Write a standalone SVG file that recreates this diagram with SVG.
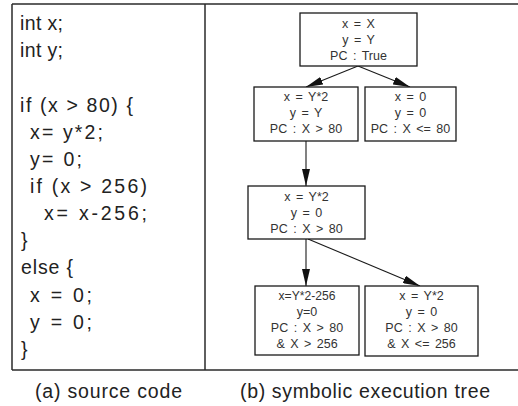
<svg xmlns="http://www.w3.org/2000/svg" width="518" height="406" viewBox="0 0 518 406">
<style>
.frame{stroke:#2a2a2a;stroke-width:1.5;fill:none}
.code{font-family:"Liberation Sans",Arial,sans-serif;font-size:19.5px;fill:#222}
.cap{font-family:"Liberation Sans",Arial,sans-serif;font-size:19.5px;fill:#222}
.box{fill:#fff;stroke:#1a1a1a;stroke-width:1.3}
.t{font-family:"Liberation Sans",Arial,sans-serif;font-size:12.5px;fill:#333;text-anchor:middle;word-spacing:2px}
.edge{stroke:#1a1a1a;stroke-width:1.1;fill:none;marker-end:url(#ah)}
</style>
<defs>
<marker id="ah" markerUnits="userSpaceOnUse" markerWidth="17" markerHeight="8" refX="17" refY="4" orient="auto">
<path d="M0,0 L17,4 L0,8 z" fill="#111"/>
</marker>
</defs>
<rect width="518" height="406" fill="#fff"/>
<g id="frame">
<line class="frame" x1="12" y1="4" x2="518" y2="4"/>
<line class="frame" x1="12" y1="370" x2="518" y2="370"/>
<line class="frame" x1="12" y1="4" x2="12" y2="370"/>
<line class="frame" x1="205" y1="4" x2="205" y2="370"/>
</g>
<g id="source-code">
<text class="code" x="20" y="30" textLength="43" lengthAdjust="spacing">int x;</text>
<text class="code" x="20" y="57" textLength="43" lengthAdjust="spacing">int y;</text>
<text class="code" x="20" y="112" textLength="113" lengthAdjust="spacing">if (x &gt; 80) {</text>
<text class="code" x="30" y="139" textLength="73" lengthAdjust="spacing">x= y*2;</text>
<text class="code" x="30" y="166" textLength="52" lengthAdjust="spacing">y= 0;</text>
<text class="code" x="30" y="193" textLength="117" lengthAdjust="spacing">if (x &gt; 256)</text>
<text class="code" x="44" y="220" textLength="103" lengthAdjust="spacing">x= x-256;</text>
<text class="code" x="21" y="247">}</text>
<text class="code" x="21" y="274" textLength="52" lengthAdjust="spacing">else {</text>
<text class="code" x="30" y="302" textLength="62" lengthAdjust="spacing">x = 0;</text>
<text class="code" x="30" y="329" textLength="62" lengthAdjust="spacing">y = 0;</text>
<text class="code" x="21" y="356">}</text>
</g>
<g id="connectors">
<line class="edge" x1="358" y1="66" x2="306" y2="87"/>
<line class="edge" x1="358" y1="66" x2="410" y2="87"/>
<line class="edge" x1="306" y1="141" x2="306" y2="186"/>
<line class="edge" x1="306" y1="239" x2="306" y2="286"/>
<line class="edge" x1="308" y1="239" x2="420" y2="286"/>
</g>
<g id="node-root">
<rect class="box" x="300" y="13" width="117" height="53"/>
<text class="t" x="358.5" y="28">x = X</text>
<text class="t" x="358.5" y="44">y = Y</text>
<text class="t" x="358.5" y="60">PC : True</text>
</g>
<g id="node-then">
<rect class="box" x="254" y="87" width="104" height="54"/>
<text class="t" x="306" y="101">x = Y*2</text>
<text class="t" x="306" y="117">y = Y</text>
<text class="t" x="306" y="133">PC : X &gt; 80</text>
</g>
<g id="node-else">
<rect class="box" x="365" y="87" width="91" height="54"/>
<text class="t" x="410.5" y="101">x = 0</text>
<text class="t" x="410.5" y="117">y = 0</text>
<text class="t" x="410.5" y="133">PC : X &lt;= 80</text>
</g>
<g id="node-mid">
<rect class="box" x="248" y="186" width="117" height="53"/>
<text class="t" x="306.5" y="201">x = Y*2</text>
<text class="t" x="306.5" y="217">y = 0</text>
<text class="t" x="306.5" y="233">PC : X &gt; 80</text>
</g>
<g id="node-leaf1">
<rect class="box" x="255" y="286" width="104" height="69"/>
<text class="t" x="307" y="300" textLength="57" lengthAdjust="spacingAndGlyphs">x=Y*2-256</text>
<text class="t" x="307" y="316">y=0</text>
<text class="t" x="307" y="332">PC : X &gt; 80</text>
<text class="t" x="307" y="348">&amp; X &gt; 256</text>
</g>
<g id="node-leaf2">
<rect class="box" x="365" y="286" width="113" height="70"/>
<text class="t" x="421.5" y="300">x = Y*2</text>
<text class="t" x="421.5" y="316">y = 0</text>
<text class="t" x="421.5" y="332">PC : X &gt; 80</text>
<text class="t" x="421.5" y="348">&amp; X &lt;= 256</text>
</g>
<g id="captions">
<text class="cap" x="35" y="398" textLength="147" lengthAdjust="spacing">(a) source code</text>
<text class="cap" x="240" y="398" textLength="250" lengthAdjust="spacing">(b) symbolic execution tree</text>
</g>
</svg>
